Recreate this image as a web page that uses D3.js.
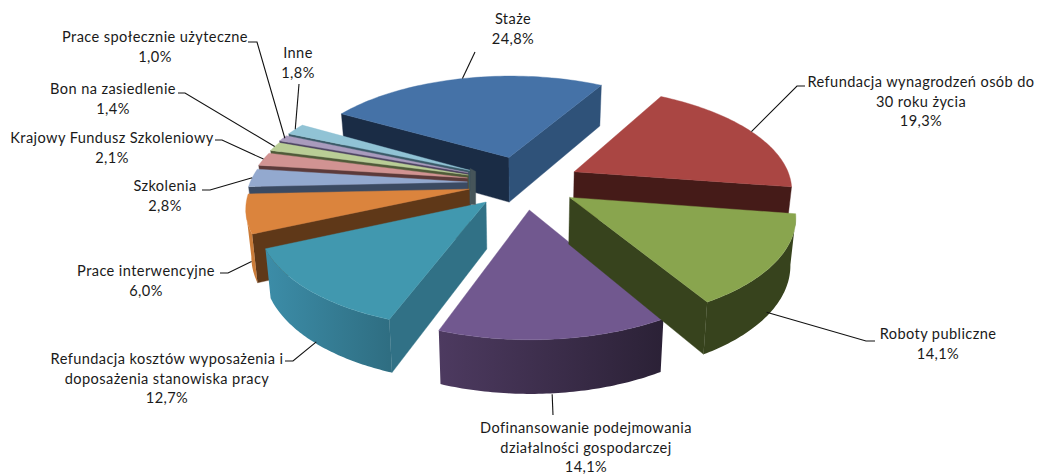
<!DOCTYPE html>
<html><head><meta charset="utf-8">
<style>html,body{margin:0;background:#fff}svg{display:block}text{font-family:Lato,"Liberation Sans",sans-serif;font-size:14.6px;letter-spacing:.4px;fill:#1a1a1a;text-anchor:middle}</style>
<script src="https://d3js.org/d3.v7.min.js"></script></head><body><svg id="c" width="1037" height="474"></svg>
<script>
// ---------- data ----------
const categories = ["Staże","Refundacja wynagrodzeń osób do 30 roku życia","Roboty publiczne","Dofinansowanie podejmowania działalności gospodarczej","Refundacja kosztów wyposażenia i doposażenia stanowiska pracy","Prace interwencyjne","Szkolenia","Krajowy Fundusz Szkoleniowy","Bon na zasiedlenie","Prace społecznie użyteczne","Inne"];
const values = [24.8,19.3,14.1,14.1,12.7,6.0,2.8,2.1,1.4,1.0,1.8];
const valueLabels = ["24,8%","19,3%","14,1%","14,1%","12,7%","6,0%","2,8%","2,1%","1,4%","1,0%","1,8%"];
const explosion = [.274,.261,.248,.257,.249,.256,.261,.267,.272,.281,.283];
// ---------- label layout ----------
const labelLines = [["Staże"],["Refundacja wynagrodzeń osób do","30 roku życia"],["Roboty publiczne"],["Dofinansowanie podejmowania","działalności gospodarczej"],["Refundacja kosztów wyposażenia i","doposażenia stanowiska pracy"],["Prace interwencyjne"],["Szkolenia"],["Krajowy Fundusz Szkoleniowy"],["Bon na zasiedlenie"],["Prace społecznie użyteczne"],["Inne"]];
const labelX = [513,921,938,586,167,146,165,112,113,155,298];
const labelY = [24,87,339,433,364,276,191,143,94,42,58];
const lineGap = 19.6;
const leaderPts = [[[475,52]],[[805,86],[797,86]],[[875,341],[866,341]],[[553,415]],[[285,361],[293,361]],[[220,273],[228,273]],[[202,190],[210,190]],[[215,140],[222,140]],[[178,93],[185,93]],[[248,42],[257,42]],[[299,84]]];
const leaderOnBase = [false,false,true,true,true,true,false,false,false,false,false];
const leaderNudge = [[0,0],[0,0],[-4,0],[-2,1],[3,0],[0,0],[0,0],[0,0],[0,0],[2,0],[0,0]];
// ---------- styles ----------
const topColors = ["#4572A7","#AA4643","#89A54E","#71588F","#4198AF","#DB843D","#93A9CF","#D19392","#B9CD96","#A99BBD","#91C3D5"];
const startWall = ["#1a2c45","#451b18","#37431d","#2f2438","#317186","#5f3818","#3b4a62","#5c3a3a","#4f5a38","#4c4260","#3a5a68"];
const endWall   = ["#2f5279","#451b18","#37431d","#2f2438","#317186","#5f3818","#3b4a62","#5c3a3a","#4f5a38","#4c4260","#3a5a68"];
const arcLeft   = ["#2f5279","#451b18","#37431d","#4d3a60","#3c8da8","#cb7c39","#6c7f9e","#a06f6e","#8b9b70","#7f748f","#6d93a0"];
const arcRight  = ["#2f5279","#451b18","#37431d","#2b2136","#2f6e82","#cb7c39","#6c7f9e","#a06f6e","#8b9b70","#7f748f","#6d93a0"];
const drawOrder = [0,10,9,8,7,6,5,1,4,3,2];
const coreColor = "#46555a", coreWidth = 5.5, coreDrop = 34;
// ---------- projection ----------
const cx=524.02, cy=183.1, R=217.5, tilt=.464, persp=.152, rot=-59.892, depth=46, depthExp=.77, baseShrink=.98;
const xS=d3.scaleLinear().domain([-1,1]).range([cx-R,cx+R]);
const yS=d3.scaleLinear().domain([-1,1]).range([cy+R*tilt,cy-R*tilt]);
const arcs=d3.pie().sort(null).value(d=>d).startAngle(rot*Math.PI/180).endAngle((rot+360)*Math.PI/180)(values);
function proj(i,r,t,base){
  const m=(arcs[i].startAngle+arcs[i].endAngle)/2, e=explosion[i];
  const X=e*Math.sin(m)+r*Math.sin(t), Y=e*Math.cos(m)+r*Math.cos(t), W=1+persp*Y;
  let x=xS(X/W), y=yS(Y/W);
  if(base){x=cx+(x-cx)*baseShrink; y+=depth/Math.pow(W,depthExp);}
  return [x,y];
}
const svg=d3.select("#c"), defs=svg.append("defs"), line=d3.line();
function poly(pts,fill){svg.append("path").attr("d",line(pts)+"Z").attr("fill",fill).attr("stroke",fill).attr("stroke-width",.4);}
for(const i of drawOrder){
  const a=arcs[i], s=a.startAngle, e=a.endAngle;
  const ts=d3.range(0,61).map(k=>s+(e-s)*k/60);
  const top=ts.map(t=>proj(i,1,t,false)), bot=ts.map(t=>proj(i,1,t,true));
  const A=proj(i,0,s,false), Ab=proj(i,0,s,true);
  // radial walls (only those facing the viewer)
  if(top[0][0]<A[0]) poly([A,top[0],bot[0],Ab],startWall[i]);
  if(top[60][0]>A[0]) poly([top[60],A,Ab,bot[60]],endWall[i]);
  // curved wall: the runs where the rim travels right-to-left face the viewer
  let run=[];
  const flush=()=>{ if(run.length>1){
      const xs=run.map(k=>top[k][0]), x0=d3.min(xs), x1=d3.max(xs), id="g"+i+"_"+Math.round(x0);
      const g=defs.append("linearGradient").attr("id",id).attr("gradientUnits","userSpaceOnUse").attr("x1",x0).attr("x2",x1).attr("y1",0).attr("y2",0);
      g.append("stop").attr("offset",0).attr("stop-color",arcLeft[i]);
      g.append("stop").attr("offset",1).attr("stop-color",arcRight[i]);
      const pts=run.map(k=>top[k]).concat(run.slice().reverse().map(k=>bot[k]));
      svg.append("path").attr("d",line(pts)+"Z").attr("fill",`url(#${id})`);
    } run=[]; };
  for(let k=0;k<60;k++){ if(top[k+1][0]<top[k][0]){ if(!run.length) run.push(k); run.push(k+1);} else flush(); }
  flush();
  poly([A].concat(top),topColors[i]);
}
// narrow end faces of the small slices, seen where they meet near the centre
const core=proj(10,0,0,false);
poly([[core[0],core[1]-2],[core[0]+coreWidth,core[1]+1],[core[0]+coreWidth,core[1]+coreDrop],[core[0],core[1]+coreDrop]],coreColor);
// ---------- leaders and labels ----------
values.forEach((v,i)=>{
  const m=(arcs[i].startAngle+arcs[i].endAngle)/2, p=proj(i,1,m,leaderOnBase[i]);
  const end=[p[0]+leaderNudge[i][0],p[1]+leaderNudge[i][1]];
  svg.append("path").attr("d",line(leaderPts[i].concat([end]))).attr("fill","none").attr("stroke","#111").attr("stroke-width",1.1);
  const t=svg.append("text");
  labelLines[i].concat([valueLabels[i]]).forEach((s,j)=>t.append("tspan").attr("x",labelX[i]).attr("y",labelY[i]+j*lineGap).text(s));
});
</script></body></html>
